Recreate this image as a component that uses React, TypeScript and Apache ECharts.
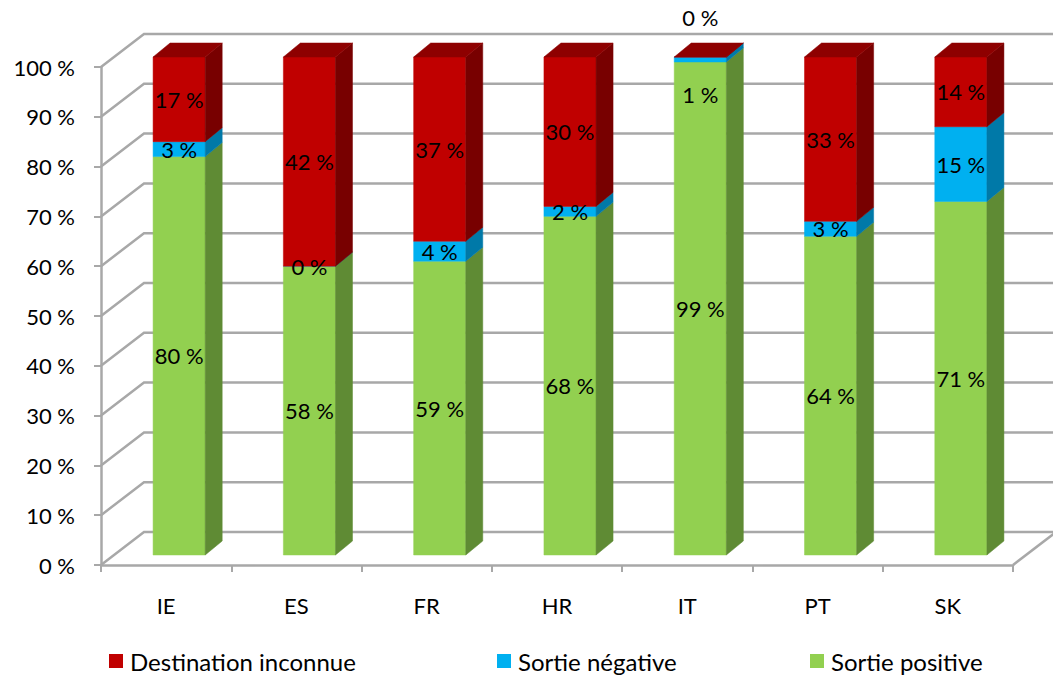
import React, { useEffect, useRef } from "react";
import * as echarts from "echarts";

const categories = ["IE", "ES", "FR", "HR", "IT", "PT", "SK"];
const sortiePositive = [80, 58, 59, 68, 99, 64, 71];
const sortieNegative = [3, 0, 4, 2, 1, 3, 15];
const destinationInconnue = [17, 42, 37, 30, 0, 33, 14];
const yTicks = [0, 10, 20, 30, 40, 50, 60, 70, 80, 90, 100];
const seriesNames = ["Sortie positive", "Sortie négative", "Destination inconnue"];
const legendNames = ["Destination inconnue", "Sortie négative", "Sortie positive"];

const stacks = [sortiePositive, sortieNegative, destinationInconnue];

const FONT = 'Lato, "Noto Sans", sans-serif';
const BAR_RATIO = 0.4;
const FRONT_DX = 13, FRONT_DY = -10;
const DEPTH_DX = 17, DEPTH_DY = -14;
const WALL_DX = 43, WALL_DY = -33;
const GRID_COLOR = "#A8A8A8";

const palette = [
  { front: "#92D050", side: "#5F8B34", top: "#79B040" },
  { front: "#00B0F0", side: "#0079A8", top: "#0093C8" },
  { front: "#C00000", side: "#780000", top: "#8E0000" },
];

function segments(si: number) {
  return categories.map((_, i) => {
    let lo = 0;
    for (let k = 0; k < si; k++) lo += stacks[k][i];
    return [i, lo, lo + stacks[si][i], stacks[si][i], si];
  });
}

function barGeom(api: any) {
  const cat = api.value(0), lo = api.value(1), hi = api.value(2);
  const pLo = api.coord([cat, lo]);
  const pHi = api.coord([cat, hi]);
  const bw = api.size([1, 0])[0] * BAR_RATIO;
  const x1 = pLo[0] + FRONT_DX - bw / 2;
  const x2 = x1 + bw;
  const yb = pLo[1] + FRONT_DY;
  const yt = pHi[1] + FRONT_DY;
  return { x1, x2, yb, yt, bw };
}

const makeBarRender = (si: number) => (params: any, api: any) => {
  const { x1, x2, yb, yt, bw } = barGeom(api);
  const c = palette[si];
  const children: any[] = [
    {
      type: "rect",
      shape: { x: x1, y: yt, width: bw, height: yb - yt },
      style: { fill: c.front, stroke: c.front, lineWidth: 0.5 },
    },
    {
      type: "polygon",
      shape: {
        points: [
          [x2, yb],
          [x2, yt],
          [x2 + DEPTH_DX, yt + DEPTH_DY],
          [x2 + DEPTH_DX, yb + DEPTH_DY],
        ],
      },
      style: { fill: c.side, stroke: c.side, lineWidth: 0.5 },
    },
  ];
  if (si === stacks.length - 1) {
    children.push({
      type: "polygon",
      shape: {
        points: [
          [x1, yt],
          [x2, yt],
          [x2 + DEPTH_DX, yt + DEPTH_DY],
          [x1 + DEPTH_DX, yt + DEPTH_DY],
        ],
      },
      style: { fill: c.top, stroke: c.top, lineWidth: 0.5 },
    });
  }
  return { type: "group", children };
};

const labelRender = (params: any, api: any) => {
  const { x1, yb, yt, bw } = barGeom(api);
  const v = api.value(3);
  const si = api.value(4);
  const cx = x1 + bw / 2;
  let cy = (yb + yt) / 2;
  // Excel moves labels that would collide: empty top segment goes above the bar,
  // very thin segment label is pushed down inside the bar.
  if (v === 0 && si === stacks.length - 1) cy = yt - 40;
  else if (v < 2 && v > 0) cy = yt + 37;
  return {
    type: "text",
    x: cx,
    y: cy,
    style: {
      text: `${v} %`,
      fill: "#000",
      fontSize: 22,
      fontFamily: FONT,
      align: "center",
      verticalAlign: "middle",
    },
  };
};

const gridRender = (params: any, api: any) => {
  const v = api.value(1);
  const y = api.coord([0, v])[1];
  const cs = params.coordSys;
  const x0 = cs.x;
  const xr = cs.x + cs.width;
  const children: any[] = [
    {
      type: "polyline",
      shape: {
        points: [
          [x0, y],
          [x0 + WALL_DX, y + WALL_DY],
          [xr + WALL_DX, y + WALL_DY],
        ],
      },
      style: { stroke: GRID_COLOR, lineWidth: 2.5, fill: null },
    },
  ];
  if (v === 0) {
    children.push({
      type: "line",
      shape: { x1: xr, y1: y, x2: xr + WALL_DX, y2: y + WALL_DY },
      style: { stroke: GRID_COLOR, lineWidth: 2.5 },
    });
  }
  return { type: "group", children };
};

export default function App() {
  const ref = useRef<HTMLDivElement>(null);
  useEffect(() => {
    if (!ref.current) return;
    const chart = echarts.init(ref.current, null, { renderer: "svg" });
    const labelData: any[] = [];
    stacks.forEach((_, si) => segments(si).forEach((d) => labelData.push(d)));

    const legendPos = [109, 497, 810];
    chart.setOption({
      animation: false,
      backgroundColor: "#fff",
      textStyle: { fontFamily: FONT },
      grid: { left: 101, right: 40, top: 67, bottom: 110, containLabel: false },
      legend: legendNames.map((n, i) => ({
        data: [n],
        left: legendPos[i],
        top: 649,
        padding: 0,
        icon: "rect",
        itemWidth: 14,
        itemHeight: 14,
        selectedMode: false,
        textStyle: { fontSize: 24, color: "#000", fontFamily: FONT, padding: [0, 0, 0, 2] },
      })),
      xAxis: {
        type: "category",
        data: categories,
        boundaryGap: true,
        axisLine: { show: true, lineStyle: { color: GRID_COLOR, width: 2.5 } },
        axisTick: { show: true, length: 7, lineStyle: { color: GRID_COLOR, width: 2 } },
        axisLabel: { fontSize: 22, color: "#000", margin: 29, fontFamily: FONT },
        splitLine: { show: false },
      },
      yAxis: {
        type: "value",
        min: 0,
        max: 100,
        interval: 10,
        axisLine: { show: true, lineStyle: { color: GRID_COLOR, width: 2.5 } },
        axisTick: { show: true, length: 7, lineStyle: { color: GRID_COLOR, width: 2 } },
        axisLabel: { formatter: "{value} %", fontSize: 22, color: "#000", margin: 26, fontFamily: FONT },
        splitLine: { show: false },
      },
      series: [
        {
          type: "custom",
          name: "grid",
          z: 1,
          silent: true,
          renderItem: gridRender,
          encode: { x: 0, y: 1 },
          data: yTicks.map((t) => [0, t]),
        },
        ...stacks.map((_, si) => ({
          type: "custom",
          name: seriesNames[si],
          z: 2,
          itemStyle: { color: palette[si].front },
          renderItem: makeBarRender(si),
          encode: { x: 0, y: [1, 2] },
          data: segments(si),
        })),
        {
          type: "custom",
          name: "labels",
          z: 5,
          silent: true,
          renderItem: labelRender,
          encode: { x: 0, y: [1, 2] },
          data: labelData,
        },
      ],
    });
    return () => chart.dispose();
  }, []);
  return (
    <div
      ref={ref}
      style={{ position: "fixed", left: 0, top: 0, width: 1053, height: 675 }}
    />
  );
}
